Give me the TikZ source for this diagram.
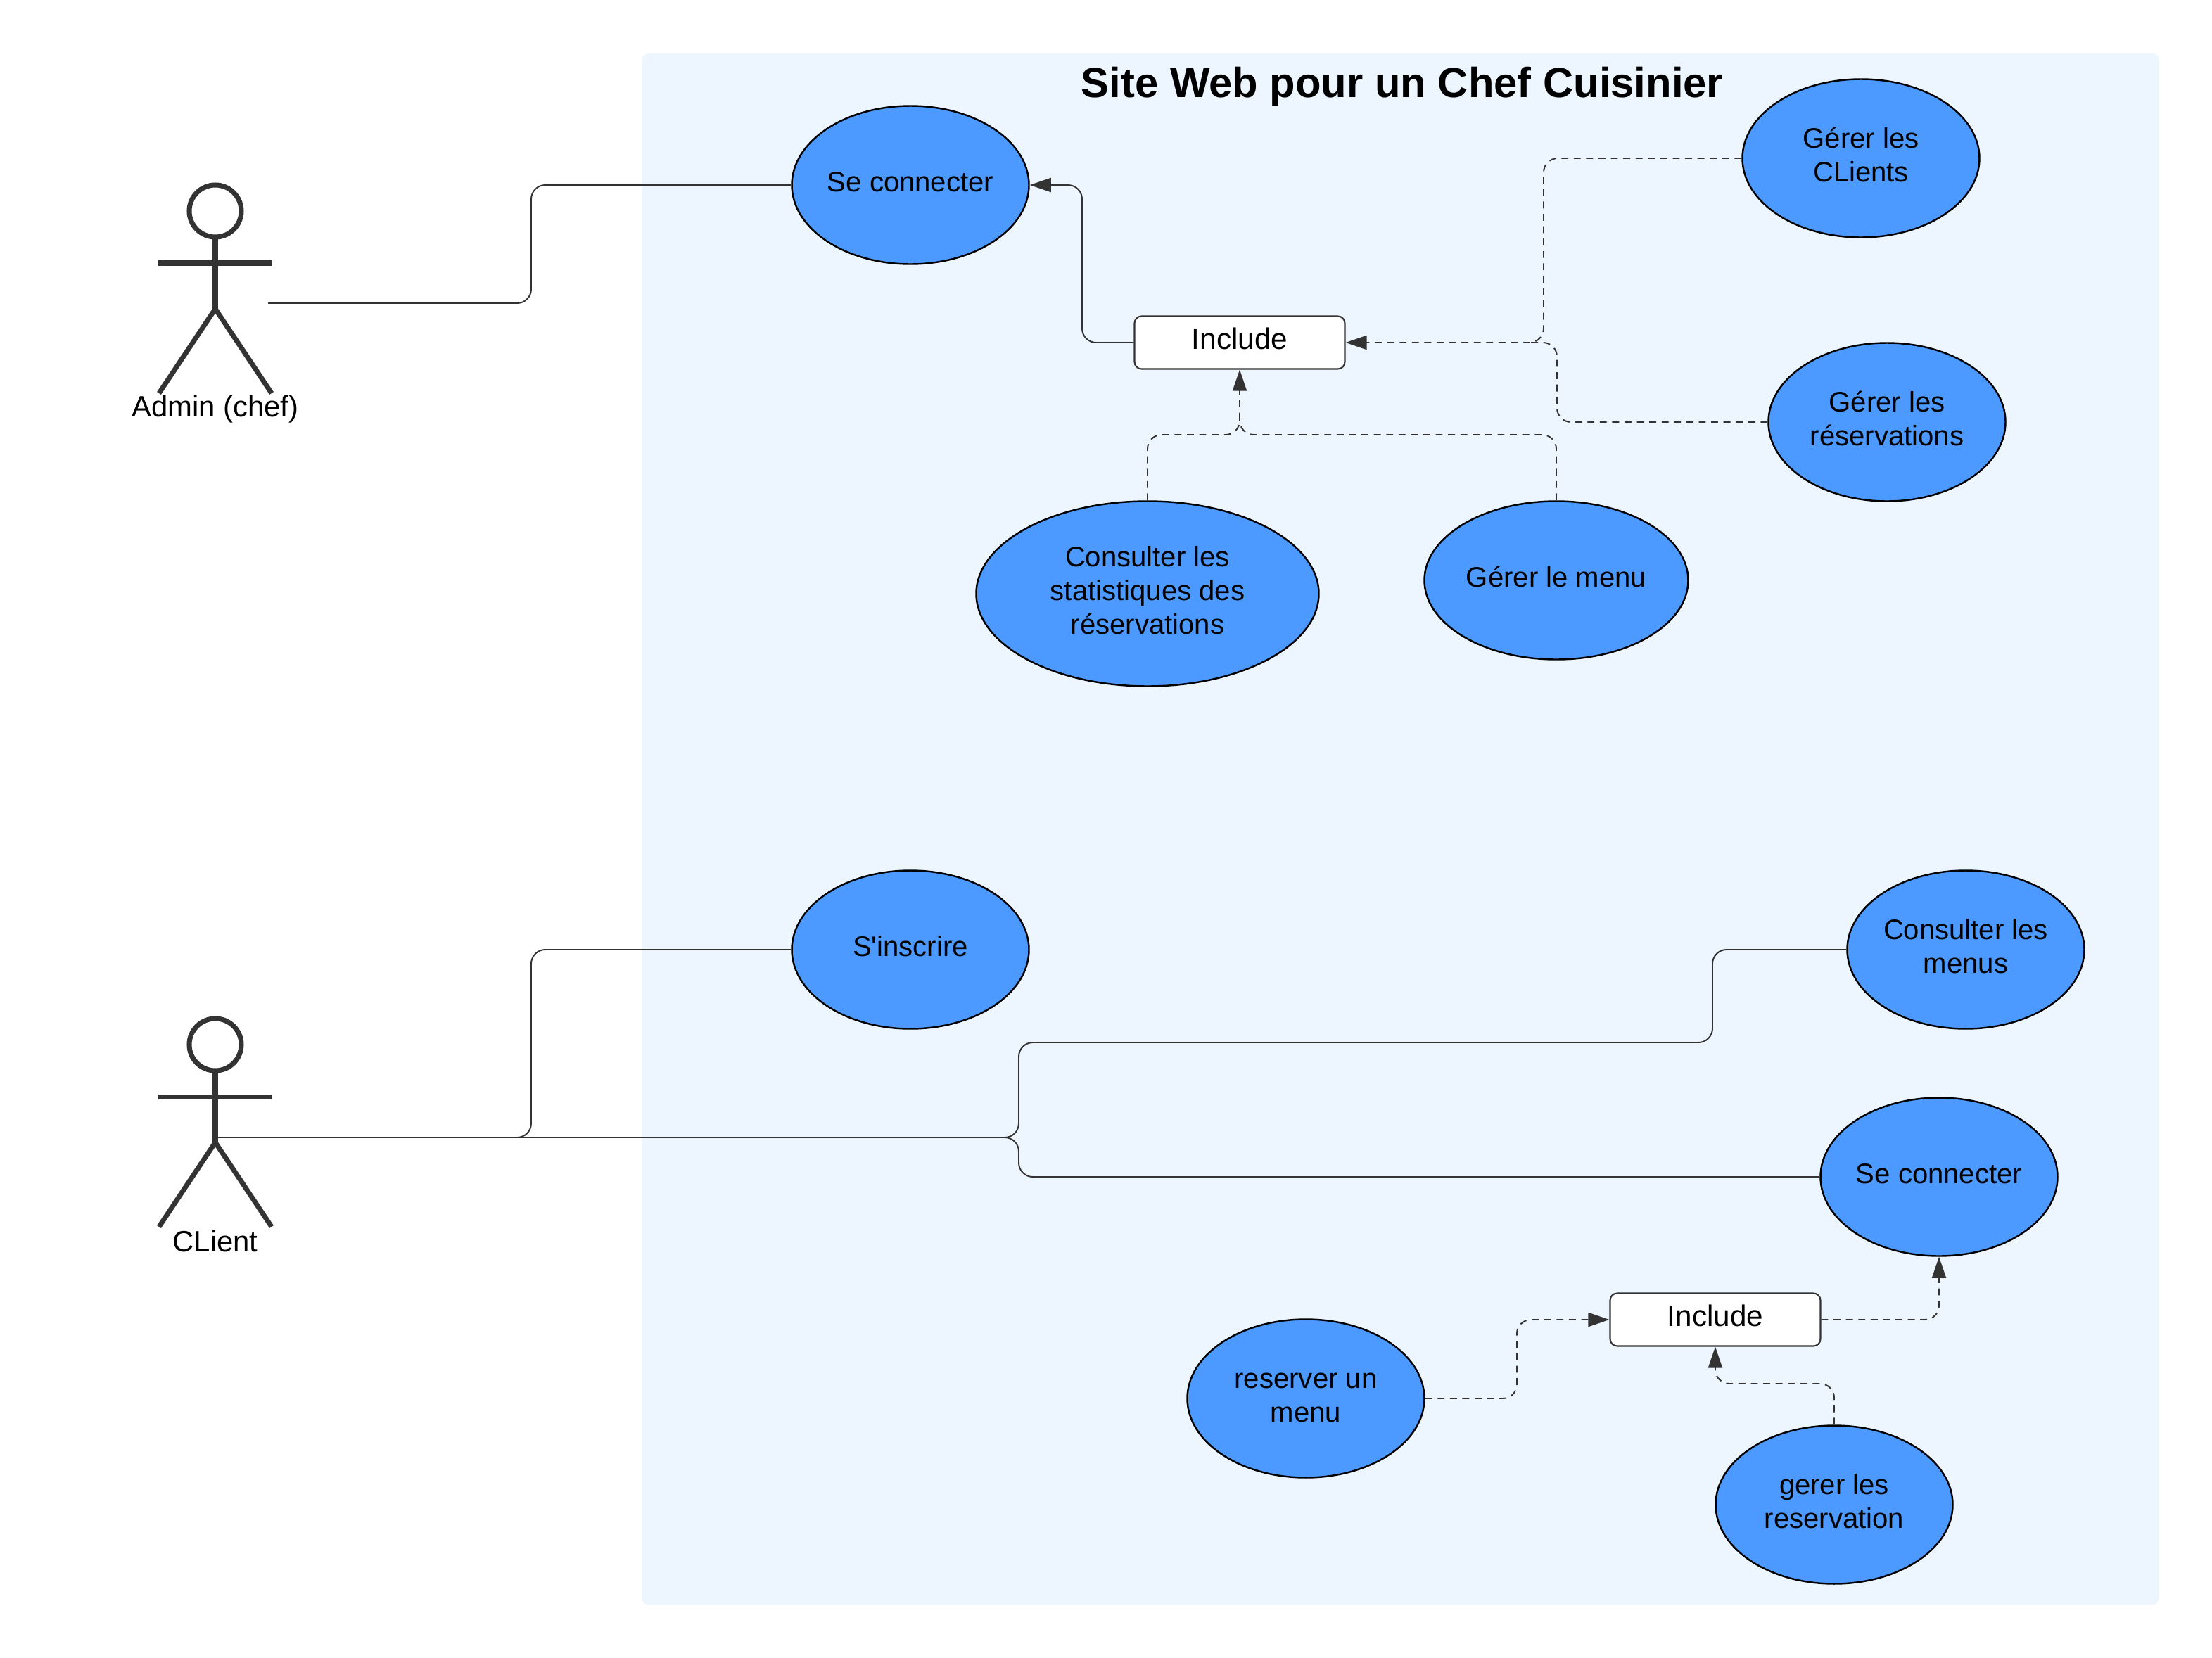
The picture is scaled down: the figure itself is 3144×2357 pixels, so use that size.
\documentclass[tikz,border=0pt]{standalone}
\usepackage{fontspec}
\setmainfont{Liberation Sans}
\usetikzlibrary{arrows.meta, shapes.geometric}

\definecolor{panelblue}{HTML}{EDF5FF}
\definecolor{caseblue}{HTML}{4C9AFF}
\definecolor{inkgray}{HTML}{333333}

% centred text block with even line struts
\newcommand{\lines}[1]{\begin{tabular}{@{}c@{}}#1\end{tabular}}

\tikzset{
  usecase/.style={ellipse, draw=black, line width=0.7pt, fill=caseblue, inner sep=0pt,
    minimum width=337*0.01cm, minimum height=225*0.01cm,
    font=\fontsize{11.4}{13.7}\selectfont},
  includebox/.style={rectangle, rounded corners=1mm, draw=inkgray, line width=0.6pt, fill=white,
    inner sep=0pt, minimum width=299*0.01cm, minimum height=75*0.01cm,
    font=\fontsize{12}{14}\selectfont},
  assoc/.style={draw=inkgray, line width=0.55pt, rounded corners=2mm},
  dep/.style={assoc, dash pattern=on 2.8pt off 2.2pt},
  tip/.style={-{Triangle[length=3mm, width=2mm]}},
  stick/.style={draw=inkgray, line width=2pt},
  actorname/.style={inner sep=0pt, font=\fontsize{11.9}{14}\selectfont}
}

\begin{document}
\begin{tikzpicture}[x=0.01cm, y=-0.01cm]
\useasboundingbox (0, 0) rectangle (3144, 2357);

% --- System panel ---
\fill[panelblue, rounded corners=1mm] (912, 76) rectangle (3069, 2281);
\node[font=\fontsize{17}{20}\selectfont\bfseries, inner sep=0pt] (title) at (1993, 123)
  {Site Web pour un Chef Cuisinier};

% --- Actors ---
\foreach \py/\nm/\lab/\ly in {0/admin/Admin (chef)/582, 1185/client/CLient/580} {
  \begin{scope}[yshift=-\py*0.01cm]
    \draw[stick] (306, 300) circle (37);
    \draw[stick] (306, 337) -- (306, 439);
    \draw[stick] (225, 374) -- (386, 374);
    \draw[stick, line join=round] (226, 559) -- (306, 439) -- (386, 559);
    \node[actorname] (\nm) at (306, \ly) {\lab};
  \end{scope}
}
\coordinate (adminend) at (381, 431);
\coordinate (clientend) at (306, 1617);

% --- Admin use cases ---
\node[usecase] (login) at (1294, 263) {\lines{Se connecter}};
\node[usecase] (clients) at (2645, 225) {\lines{Gérer les\\CLients}};
\node[usecase] (bookings) at (2682, 600) {\lines{Gérer les\\réservations}};
\node[usecase, minimum width=487*0.01cm, minimum height=263*0.01cm] (stats) at (1631, 844)
  {\lines{Consulter les\\statistiques des\\réservations}};
\node[usecase, minimum width=375*0.01cm] (menu) at (2212, 825) {\lines{Gérer le menu}};
\node[includebox] (include) at (1762, 487) {\lines{Include}};

% --- Client use cases ---
\node[usecase] (signup) at (1294, 1350) {\lines{S\textquotesingle inscrire}};
\node[usecase] (menus) at (2794, 1350) {\lines{Consulter les\\menus}};
\node[usecase] (login2) at (2756, 1673) {\lines{Se connecter}};
\node[usecase] (reserve) at (1856, 1988) {\lines{reserver un\\menu}};
\node[usecase] (manage) at (2607, 2139) {\lines{gerer les\\reservation}};
\node[includebox] (include2) at (2438, 1876) {\lines{Include}};

% --- Join points ---
\coordinate (joinright) at (2170, 487);
\coordinate (joinbelow) at (1762, 590);

% --- Admin connectors ---
\draw[assoc] (adminend) -- (755, 431) |- (login.west);
\draw[assoc, tip] (include.west) -- (1538, 487) |- (login.east);
\draw[dep, tip] (clients.west) -- (2194, 225) |- (include.east);
\draw[dep] (bookings.west) -- (2213, 600) |- (joinright);
\draw[dep, tip] (stats.north) -- (1631, 618) -| (include.south);
\draw[dep] (menu.north) -- (2212, 618) -| (joinbelow);

% --- Client connectors ---
\draw[assoc] (clientend) -- (755, 1617) |- (signup.west);
\draw[assoc] (clientend) -- (1448, 1617) -- (1448, 1482) -- (2434, 1482) |- (menus.west);
\draw[assoc] (clientend) -- (1448, 1617) |- (login2.west);
\draw[dep, tip] (reserve.east) -- (2156, 1988) |- (include2.west);
\draw[dep, tip] (include2.east) -| (login2.south);
\draw[dep, tip] (manage.north) -- (2607, 1967) -| (include2.south);

\end{tikzpicture}
\end{document}
